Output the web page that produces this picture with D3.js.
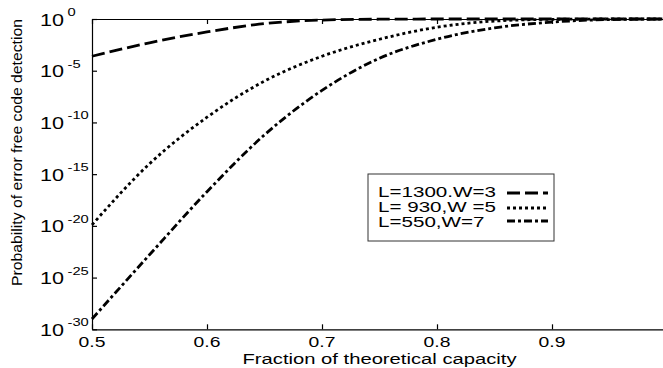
<!DOCTYPE html>
<html>
<head>
<meta charset="utf-8">
<script src="https://cdn.jsdelivr.net/npm/d3@7"></script>
<style>
body { margin: 0; background: #fff; }
svg { display: block; }
text { font-family: "Liberation Sans", Arial, sans-serif; fill: #000; }
</style>
</head>
<body>
<script>
// fraction of theoretical capacity
var capacity = [0.5, 0.55, 0.6, 0.65, 0.7, 0.75, 0.8, 0.85, 0.9, 0.95, 1.0];
// probability of error free code detection, one list per curve
var probW3 = [2.5e-4, 5e-3, 0.056, 0.355, 0.79, 0.955, 1, 1, 1, 1, 1];
var probW5 = [1.26e-20, 1e-14, 3.2e-10, 1e-6, 2.5e-4, 0.011, 0.16, 0.63, 0.93, 1, 1];
var probW7 = [1e-29, 1.6e-23, 2e-17, 6.3e-12, 1.26e-7, 1.6e-4, 0.011, 0.14, 0.5, 0.88, 1];
var seriesNames = ["L=1300.W=3", "L= 930,W =5", "L=550,W=7"];
var yTickExp = [0, -5, -10, -15, -20, -25, -30];
var xTicks = [0.5, 0.6, 0.7, 0.8, 0.9];

var width = 663, height = 368;
var plotLeft = 92, plotTop = 19, plotBottom = 329.3;
var dashes = ["13,5", "3,3", "8,3,3,3"];

var x = d3.scaleLinear().domain([0.5, 1]).range([plotLeft, 667]);
var y = d3.scaleLog().domain([1e-30, 1]).range([plotBottom, plotTop]);

var svg = d3.select("body").append("svg")
	.attr("width", width)
	.attr("height", height);

// the original picture is stretched sideways, so text is too
function stretch(sel, k) {
	sel.each(function() {
		var w = this.getComputedTextLength();
		d3.select(this).attr("textLength", w * k).attr("lengthAdjust", "spacingAndGlyphs");
	});
}

// axes, ticks point inwards
svg.append("g")
	.attr("transform", "translate(" + plotLeft + ",0)")
	.call(d3.axisLeft(y).tickValues(yTickExp.map(function(e) { return Math.pow(10, e); }))
		.tickSize(-5).tickSizeOuter(0).tickFormat(""));
svg.append("g")
	.attr("transform", "translate(0," + plotBottom + ")")
	.call(d3.axisBottom(x).tickValues(xTicks).tickSize(-5).tickSizeOuter(0).tickFormat(""));
svg.append("g")
	.attr("transform", "translate(0," + plotTop + ")")
	.call(d3.axisTop(x).tickValues(xTicks).tickSize(-5).tickSizeOuter(0).tickFormat(""));
svg.selectAll(".domain, .tick line").attr("stroke", "#000").attr("stroke-width", 1.2);

// y tick labels 10^e
var yl = svg.append("g");
yTickExp.forEach(function(e) {
	var ty = y(Math.pow(10, e));
	yl.append("text").attr("x", 40).attr("y", ty + 6.5)
		.style("font-size", "16px").text("10")
		.attr("textLength", 24).attr("lengthAdjust", "spacingAndGlyphs");
	yl.append("text").attr("x", 67.5).attr("y", ty - 3)
		.style("font-size", "10.5px").text(String(e))
		.call(stretch, 1.4);
});

// x tick labels
xTicks.forEach(function(v) {
	var t = svg.append("text").attr("y", 347).style("font-size", "14px").text(String(v));
	var w = t.node().getComputedTextLength() * 1.38;
	t.attr("x", x(v) - w / 2).attr("textLength", w).attr("lengthAdjust", "spacingAndGlyphs");
});

svg.append("text")
	.attr("x", 379.5 - 137).attr("y", 364)
	.style("font-size", "14px")
	.attr("textLength", 274).attr("lengthAdjust", "spacingAndGlyphs")
	.text("Fraction of theoretical capacity");

svg.append("text")
	.attr("transform", "translate(21.5,286) rotate(-90)")
	.style("font-size", "14px")
	.attr("textLength", 267).attr("lengthAdjust", "spacingAndGlyphs")
	.text("Probability of error free code detection");

// curves
var line = d3.line()
	.x(function(d) { return x(d[0]); })
	.y(function(d) { return y(d[1]); })
	.curve(d3.curveMonotoneX);

[probW3, probW5, probW7].forEach(function(s, i) {
	svg.append("path")
		.datum(d3.zip(capacity, s))
		.attr("d", line)
		.attr("fill", "none")
		.attr("stroke", "#000")
		.attr("stroke-width", 2.8)
		.attr("stroke-dasharray", dashes[i]);
});

// legend
var lg = svg.append("g");
lg.append("rect")
	.attr("x", 368).attr("y", 174).attr("width", 186).attr("height", 67)
	.attr("fill", "#fff").attr("stroke", "#333").attr("stroke-width", 1);
var rowBase = [197, 212, 227];
var rowLine = [193, 208, 221];
seriesNames.forEach(function(n, i) {
	lg.append("text").attr("x", 378).attr("y", rowBase[i])
		.style("font-size", "14.5px").text(n).call(stretch, 1.42);
	lg.append("line")
		.attr("x1", 507).attr("x2", 548)
		.attr("y1", rowLine[i]).attr("y2", rowLine[i])
		.attr("stroke", "#000").attr("stroke-width", 2.8)
		.attr("stroke-dasharray", dashes[i]);
});
</script>
</body>
</html>
